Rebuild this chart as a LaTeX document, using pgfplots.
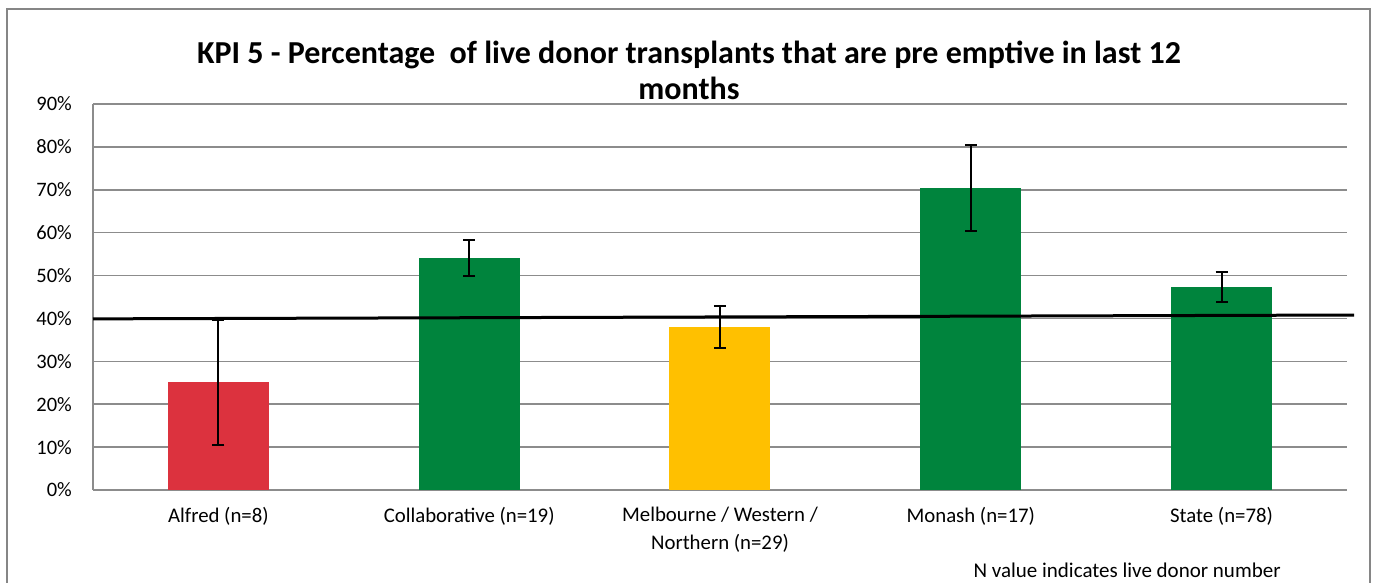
\documentclass[border=0pt]{standalone}
\usepackage{fontspec}
\setmainfont{Carlito}
\usepackage{pgfplots}
\pgfplotsset{compat=1.18}
\definecolor{kred}{RGB}{220,50,62}
\definecolor{kgreen}{RGB}{0,132,61}
\definecolor{kyellow}{RGB}{255,192,0}
\definecolor{kgrid}{RGB}{140,140,140}
\definecolor{kframe}{RGB}{134,134,134}
\begin{document}
\begin{tikzpicture}[x=1pt,y=1pt]
\path[use as bounding box] (0,0) rectangle (1376,583);
\draw[kframe, line width=2pt] (7,-2) -- (7,574) -- (1370,574) -- (1370,-2);
\node[align=center, font=\bfseries\fontsize{32}{36.5}\selectfont] at (689,512.5) {KPI 5 - Percentage\ \ of live donor transplants that are pre emptive in last 12\\months};
\begin{axis}[
  at={(93pt,93pt)}, anchor=south west, scale only axis,
  width=1254pt, height=386pt,
  xmin=-0.5, xmax=4.5, ymin=0, ymax=90,
  axis x line=bottom, axis y line=left,
  axis line style={kgrid, line width=1.5pt, -},
  ytick={0,10,...,90},
  yticklabel={\pgfmathparse{int(round(\tick))}\pgfmathresult\%},
  yticklabel style={font=\fontsize{20.5}{22}\selectfont, inner sep=0pt, xshift=-21pt},
  xtick={0,1,2,3,4},
  xticklabels={Alfred (n=8), Collaborative (n=19), {Melbourne / Western /\\Northern (n=29)}, Monash (n=17), State (n=78)},
  xticklabel style={font=\fontsize{20.8}{28}\selectfont, align=center, inner sep=0pt, yshift=-17pt},
  major tick length=0pt,
  ymajorgrids, major grid style={kgrid, line width=1.5pt},
  clip=false,
  error bars/error bar style={black, line width=2pt},
  error bars/error mark options={rotate=90, black, mark size=6pt, line width=2pt},
]
\addplot[ybar, bar width=101pt, bar shift=0pt, fill=kred, draw=none,
  error bars/.cd, y dir=both, y explicit] coordinates {(0,25.1) +- (0,14.6)};
\addplot[ybar, bar width=101pt, bar shift=0pt, fill=kgreen, draw=none,
  error bars/.cd, y dir=both, y explicit] coordinates {(1,54.1) +- (0,4.2)};
\addplot[ybar, bar width=101pt, bar shift=0pt, fill=kyellow, draw=none,
  error bars/.cd, y dir=both, y explicit] coordinates {(2,38.0) +- (0,4.9)};
\addplot[ybar, bar width=101pt, bar shift=0pt, fill=kgreen, draw=none,
  error bars/.cd, y dir=both, y explicit] coordinates {(3,70.5) +- (0,10.0)};
\addplot[ybar, bar width=101pt, bar shift=0pt, fill=kgreen, draw=none,
  error bars/.cd, y dir=both, y explicit] coordinates {(4,47.4) +- (0,3.5)};
\addplot[black, line width=3pt, mark=none] coordinates {(-0.5,39.9) (4.528,40.8)};
\end{axis}
\node[anchor=west, font=\fontsize{21}{22}\selectfont] at (970,13) {N value indicates live donor number};
\end{tikzpicture}
\end{document}
